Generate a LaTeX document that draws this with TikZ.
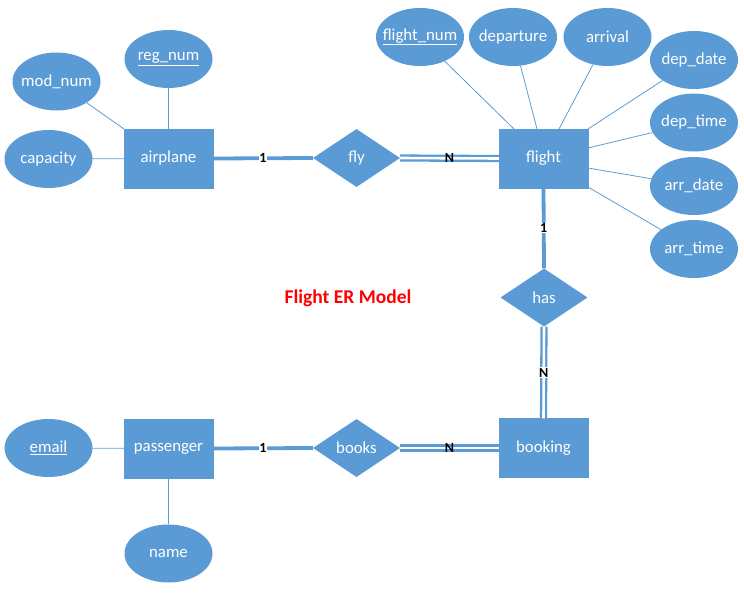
\documentclass[tikz,border=0pt]{standalone}
\usepackage{fontspec}
\setmainfont{Carlito}
\usetikzlibrary{shapes.geometric}
\definecolor{erblue}{HTML}{5B9BD5}
\definecolor{errred}{HTML}{FF0000}
\newcommand{\fixw}[1]{\makebox[0pt]{#1}}
\tikzset{
  ent/.style={rectangle, fill=erblue, draw=erblue, minimum width=89pt, minimum height=59pt, inner sep=0pt, text=white, font=\fontsize{16.8}{19}\selectfont},
  attr/.style={ellipse, fill=erblue, minimum width=88pt, minimum height=58pt, inner sep=0pt, text=white, font=\fontsize{16.8}{19}\selectfont},
  rel/.style={diamond, fill=erblue, minimum width=87pt, minimum height=58pt, inner sep=0pt, aspect=1.5, text=white, font=\fontsize{16.8}{19}\selectfont},
  attrline/.style={draw=erblue, line width=0.8pt},
  oneline/.style={draw=erblue, line width=3.8pt},
  manyline/.style={draw=erblue, line width=2.3pt, double=white, double distance=2.6pt},
  card/.style={fill=white, inner sep=0.6pt, text=black, font=\fontsize{14}{15}\selectfont\bfseries},
}
\begin{document}
\begin{tikzpicture}[x=1pt,y=-1pt]
\useasboundingbox (0,0) rectangle (744,594);
% entities
\node[ent] (airplane) at (168.5,158.5) {airplane};
\node[ent] (flight) at (543.5,158.5) {flight};
\node[ent] (booking) at (543.5,448) {booking};
\node[ent] (passenger) at (168.5,448.5) {passenger};
% relationships
\node[rel] (fly) at (356.5,158) {\fixw{fly}};
\node[rel] (has) at (544,297.5) {\fixw{has}};
\node[rel] (books) at (356.5,448) {\fixw{books}};
% attributes
\node[attr] (regnum) at (168.5,59) {\fixw{\underline{reg\_num}}};
\node[attr] (modnum) at (56.5,81.5) {\fixw{mod\_num}};
\node[attr] (capacity) at (48.5,159) {\fixw{capacity}};
\node[attr] (flightnum) at (420,37) {\fixw{\underline{flight\_num}}};
\node[attr] (departure) at (513,37) {\fixw{departure}};
\node[attr] (arrival) at (607.5,37) {\fixw{arrival}};
\node[attr] (depdate) at (694,60) {\fixw{dep\_date}};
\node[attr] (deptime) at (694,122.5) {\fixw{dep\_time}};
\node[attr] (arrdate) at (694,186) {\fixw{arr\_date}};
\node[attr] (arrtime) at (694,249) {\fixw{arr\_time}};
\node[attr] (email) at (48.5,448) {\fixw{\underline{email}}};
\node[attr] (name) at (168.5,553.5) {\fixw{name}};
% title
\node[text=errred, font=\fontsize{19.5}{22}\selectfont\bfseries] (title) at (348,298) {Flight ER Model};
% attribute lines
\coordinate (aNW) at (124,129);
\coordinate (fA) at (514,129);
\coordinate (fB) at (537,129);
\coordinate (fC) at (559,129);
\coordinate (fD) at (588,129);
\coordinate (fE) at (588,148);
\coordinate (fF) at (588,168);
\coordinate (fG) at (588,187);
\draw[attrline] (regnum) -- (airplane);
\draw[attrline] (modnum) -- (aNW);
\draw[attrline] (capacity) -- (airplane);
\draw[attrline] (flightnum) -- (fA);
\draw[attrline] (departure) -- (fB);
\draw[attrline] (arrival) -- (fC);
\draw[attrline] (depdate) -- (fD);
\draw[attrline] (deptime) -- (fE);
\draw[attrline] (arrdate) -- (fF);
\draw[attrline] (arrtime) -- (fG);
\draw[attrline] (email) -- (passenger);
\draw[attrline] (name) -- (passenger);
% relationship lines
\draw[oneline] (airplane.east) -- node[card] (c1) {1} (fly.west);
\draw[manyline] (fly.east) -- node[card, fill=none] (c2) {N} (flight.west);
\draw[oneline] (flight.south) -- node[card] (c3) {1} (has.north);
\draw[manyline] (has.south) -- node[card] (c4) {N} (booking.north);
\draw[oneline] (passenger.east) -- node[card] (c5) {1} (books.west);
\draw[manyline] (books.east) -- node[card, fill=none] (c6) {N} (booking.west);
\end{tikzpicture}
\end{document}
